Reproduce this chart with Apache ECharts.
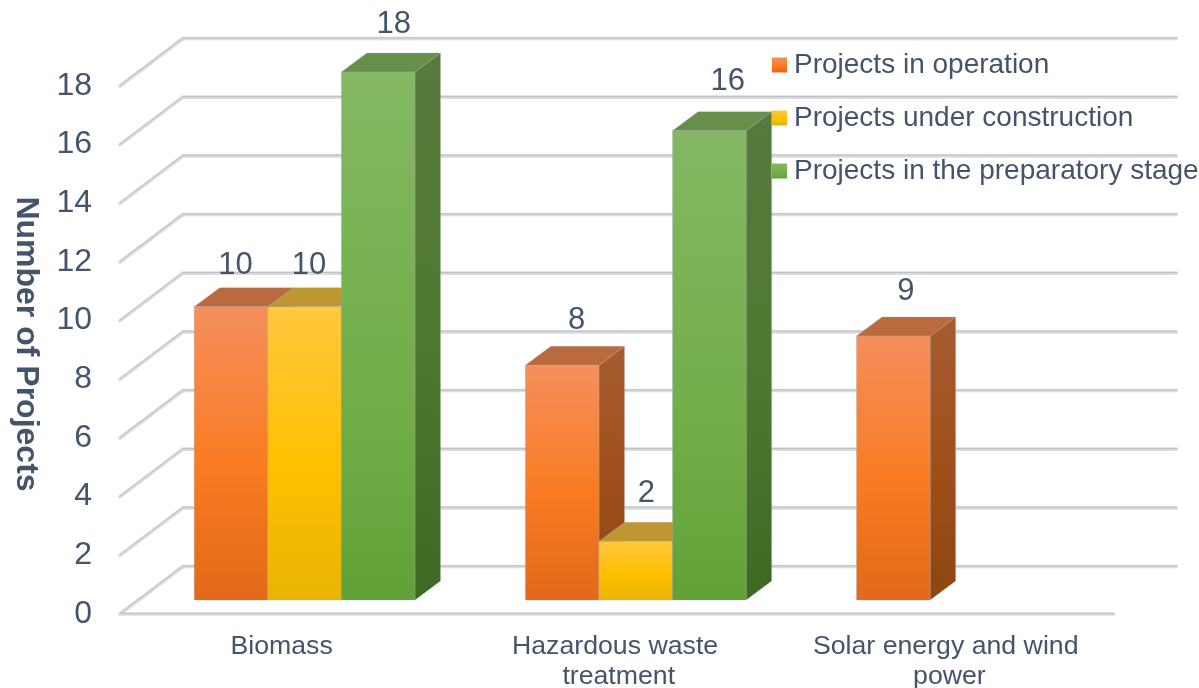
<!DOCTYPE html>
<html><head><meta charset="utf-8">
<style>html,body{margin:0;padding:0;background:#fff}#c{width:1199px;height:688px}</style>
<script src="https://cdn.jsdelivr.net/npm/echarts@6/dist/echarts.min.js"></script>
</head><body><div id="c"></div>
<script>
const categories = ['Biomass', 'Hazardous waste treatment', 'Solar energy and wind power'];
const seriesNames = ['Projects in operation', 'Projects under construction', 'Projects in the preparatory stage'];
const inOperation = [10, 8, 9];
const underConstruction = [10, 2, null];
const preparatory = [18, 16, null];
const yTicks = [0, 2, 4, 6, 8, 10, 12, 14, 16, 18];

const FONT = '"Liberation Sans", Arial, sans-serif';
const TEXT = '#44546A';
const grad = (a, b, c, s) => new echarts.graphic.LinearGradient(0, 0, 0, 1, [
  {offset: 0, color: a}, {offset: s, color: b}, {offset: 1, color: c}]);
const looks = [
  {front: () => grad('#F58F5C', '#F97B22', '#E2691A', .55), side: () => grad('#A65C30', '#A0501C', '#8C4610', .5), top: '#B96A3E'},
  {front: () => grad('#FFC83F', '#FFC000', '#E8B405', .55), side: () => grad('#B88F20', '#B08800', '#9A7800', .5), top: '#BF9732'},
  {front: () => grad('#84B864', '#70AD47', '#62A138', .65), side: () => grad('#56793F', '#4F7A30', '#3E6823', .5), top: '#658F4B'}
];
// label nudges relative to the bar's front-top centre (hand placed in the original)
const labelNudge = [
  [[5, -41.5], [15, -45], [13, -44.5]],
  [[5, -41.5], [11, -48], [0, 0]],
  [[16, -48], [19, -49], [0, 0]]
];
const catLabelPadding = [[0, 8, 0, 0], [0, 0, 0, 4], [0, 0, 0, 3]];
const DX = 25.5, DY = -19;          // bar depth
const WX = 63, WY = -47.5;          // wall depth
const BAR_SHIFT = 19, BAR_RATIO = 0.2222;

function bar(idx) {
  return function (params, api) {
    const v = api.value(1);
    if (v == null || isNaN(v)) return;
    const cat = api.value(0);
    const band = api.size([1, 0])[0];
    const w = band * BAR_RATIO;
    const c = api.coord([cat, v]);
    const b = api.coord([cat, 0]);
    const x0 = c[0] + BAR_SHIFT + (idx - 1.5) * w;
    const x1 = x0 + w;
    const shift = -14;
    const yT = c[1] + shift, yB = b[1] + shift;
    const L = looks[idx];
    const n = labelNudge[idx][cat];
    const edge = 'rgba(170,170,170,0.55)';
    return {type: 'group', children: [
      {type: 'polygon', shape: {points: [[x1, yT], [x1 + DX, yT + DY], [x1 + DX, yB + DY], [x1, yB]]},
        style: {fill: L.side(), stroke: edge, lineWidth: .6}},
      {type: 'polygon', shape: {points: [[x0, yT], [x0 + DX, yT + DY], [x1 + DX, yT + DY], [x1, yT]]},
        style: {fill: L.top, stroke: edge, lineWidth: .6}},
      {type: 'rect', shape: {x: x0, y: yT, width: w, height: yB - yT},
        style: {fill: L.front(), stroke: edge, lineWidth: .6}},
      {type: 'text', x: (x0 + x1) / 2 + n[0] - .5, y: yT + n[1],
        style: {text: String(v), fill: TEXT, font: '31px ' + FONT, align: 'center', verticalAlign: 'middle'}}
    ]};
  };
}
function walls(params, api) {
  const val = api.value(0);
  const y = api.coord([0, val])[1];
  const cs = params.coordSys;
  const l = cs.x, r = cs.x + cs.width;
  const kids = [];
  const addLine = pts => {
    kids.push({type: 'polyline', shape: {points: pts}, style: {fill: null, stroke: '#DADCE0', lineWidth: 3.6, lineCap: 'round', lineJoin: 'round'}});
    kids.push({type: 'polyline', shape: {points: pts.map(p => [p[0], p[1] - .6])}, style: {fill: null, stroke: '#BFC1C5', lineWidth: 1, lineCap: 'round', lineJoin: 'round'}});
  };
  addLine([[l, y], [l + WX, y + WY], [r + WX, y + WY]]);
  if (val === 0) addLine([[l, y], [r, y]]);
  return {type: 'group', children: kids};
}
const chart = echarts.init(document.getElementById('c'), null, {renderer: 'canvas'});
const toData = arr => arr.map((v, i) => [i, v]);
chart.setOption({
  animation: false,
  backgroundColor: '#fff',
  grid: {left: 120, right: 85.5, top: 86, bottom: 74, outerBoundsMode: 'none', containLabel: false},
  legend: {
    data: seriesNames, orient: 'vertical', left: 772, top: 51, icon: 'rect',
    itemWidth: 15, itemHeight: 15, itemGap: 25, padding: 0,
    textStyle: {color: TEXT, fontFamily: FONT, fontSize: 28, padding: [0, 0, 0, 2]},
    selectedMode: false
  },
  xAxis: {
    type: 'category',
    data: categories.map((c, i) => ({value: c, textStyle: {padding: catLabelPadding[i]}})),
    axisLine: {show: false}, axisTick: {show: false},
    axisLabel: {color: TEXT, fontFamily: FONT, fontSize: 26.7, margin: 18, lineHeight: 30, width: 300, overflow: 'break', interval: 0}
  },
  yAxis: {
    type: 'value', min: 0, max: 18, interval: 2,
    name: 'Number of Projects', nameLocation: 'middle', nameGap: 78, nameRotate: -90,
    nameTextStyle: {color: TEXT, fontFamily: FONT, fontSize: 32, fontWeight: 'bold', padding: [0, 12, 0, 0]},
    axisLine: {show: false}, axisTick: {show: false}, splitLine: {show: false},
    axisLabel: {color: TEXT, fontFamily: FONT, fontSize: 32, margin: 28, padding: [4, 0, 0, 0]}
  },
  series: [
    {type: 'custom', name: 'walls', coordinateSystem: 'cartesian2d', clip: false, silent: true, z: 1,
      data: yTicks.map(v => [v]), encode: {y: 0}, renderItem: walls},
    ...[inOperation, underConstruction, preparatory].map((arr, i) => ({
      type: 'custom', name: seriesNames[i], coordinateSystem: 'cartesian2d', clip: false, z: 2 + i,
      itemStyle: {color: looks[i].front()},
      data: toData(arr), encode: {x: 0, y: 1}, renderItem: bar(i)
    }))
  ]
});
</script></body></html>
